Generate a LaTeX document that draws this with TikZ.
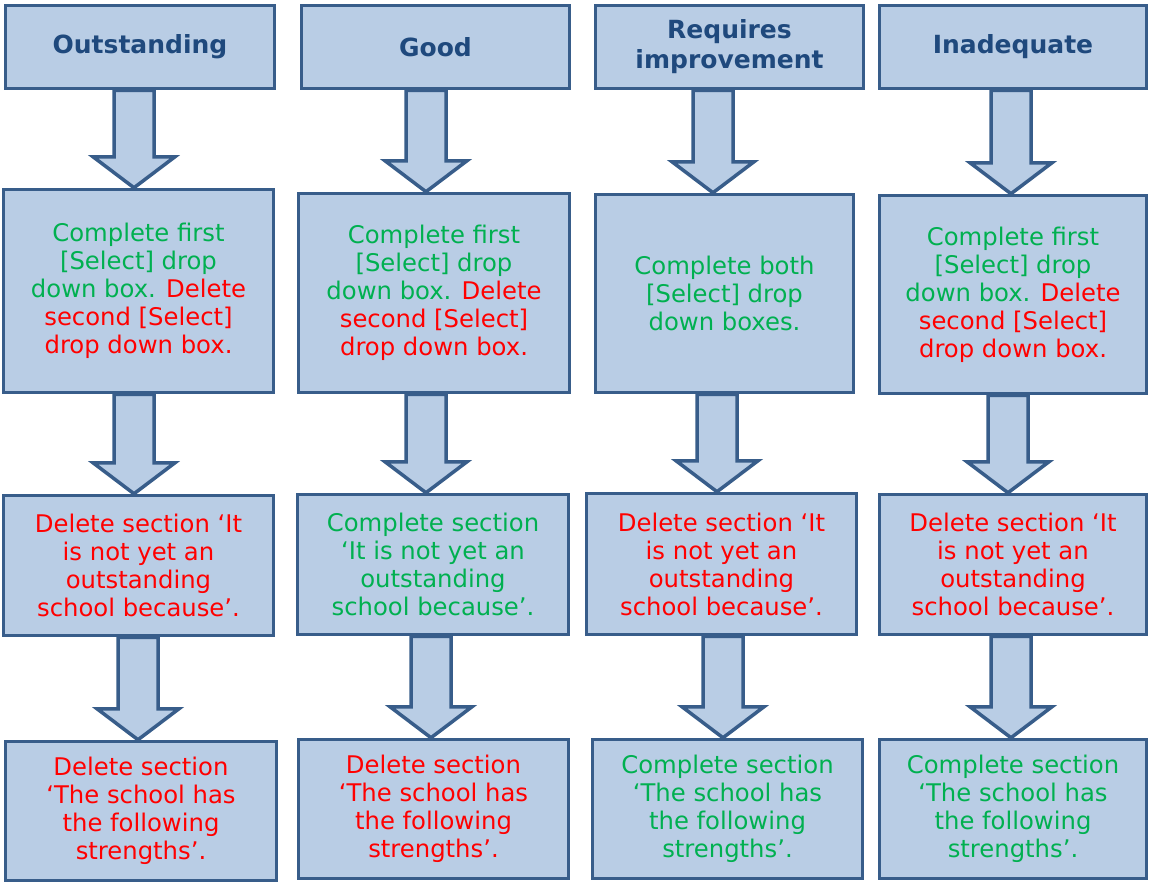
\documentclass[tikz,border=0pt]{standalone}
\usepackage{fontspec}
\setmainfont{DejaVu Sans}
\usepackage{tikz}
\usetikzlibrary{calc,positioning}
\definecolor{boxfill}{RGB}{185,205,229}
\definecolor{boxline}{RGB}{56,93,138}
\definecolor{headblue}{RGB}{31,73,125}
\definecolor{okgreen}{RGB}{0,176,80}
\definecolor{delred}{RGB}{255,0,0}
\tikzset{
    box/.style={rectangle, draw=boxline, fill=boxfill, line width=3.5pt, align=center, inner sep=2pt, minimum width=268pt, font=\fontsize{24.3}{28}\selectfont},
    head/.style={box, minimum height=83pt, text=headblue, font=\fontsize{25}{30}\selectfont\bfseries},
    bigarrow/.style={draw=boxline, fill=boxfill, line width=3.5pt, line join=miter}
}
% block arrow: from node, to node, centre x (pt)
\newcommand{\blockarrow}[3]{%
    \draw [bigarrow] let \p1=(#1.south), \p2=(#2.north) in
        (#3pt-20pt,\y1) -- (#3pt+20pt,\y1) -- (#3pt+20pt,\y2+31pt) -- (#3pt+41pt,\y2+31pt)
        -- (#3pt,\y2) -- (#3pt-41pt,\y2+31pt) -- (#3pt-20pt,\y2+31pt) -- cycle;}
\newcommand{\ok}[1]{\textcolor{okgreen}{#1}}
\newcommand{\del}[1]{\textcolor{delred}{#1}}

\begin{document}
\begin{tikzpicture}[x=1pt, y=-1pt]
    \useasboundingbox (0,0) rectangle (1152,884);

    % Outstanding
    \node [head, minimum width=269pt] (out) at (140,47) {Outstanding};
    \node [box, minimum width=270pt, minimum height=203pt] (out-sel) at (138.5,291)
        {\ok{Complete first}\\\ok{[Select] drop}\\\ok{down box.} \del{Delete}\\\del{second [Select]}\\\del{drop down box.}};
    \node [box, minimum width=270pt, minimum height=140pt] (out-nyo) at (138.5,565.5)
        {\del{Delete section ‘It}\\\del{is not yet an}\\\del{outstanding}\\\del{school because’.}};
    \node [box, minimum width=271pt, minimum height=139pt] (out-str) at (141,811)
        {\del{Delete section}\\\del{‘The school has}\\\del{the following}\\\del{strengths’.}};

    % Good
    \node [head] (good) at (435.5,47) {Good};
    \node [box, minimum width=271pt, minimum height=199pt] (good-sel) at (434,293)
        {\ok{Complete first}\\\ok{[Select] drop}\\\ok{down box.} \del{Delete}\\\del{second [Select]}\\\del{drop down box.}};
    \node [box, minimum width=271pt, minimum height=140pt] (good-nyo) at (433,564.5)
        {\ok{Complete section}\\\ok{‘It is not yet an}\\\ok{outstanding}\\\ok{school because’.}};
    \node [box, minimum width=270pt, minimum height=139pt] (good-str) at (433.5,809)
        {\del{Delete section}\\\del{‘The school has}\\\del{the following}\\\del{strengths’.}};

    % Requires improvement
    \node [head] (req) at (729.5,47) {Requires\\improvement};
    \node [box, minimum width=258pt, minimum height=198pt] (req-sel) at (724.5,293.5)
        {\ok{Complete both}\\\ok{[Select] drop}\\\ok{down boxes.}};
    \node [box, minimum width=270pt, minimum height=141pt] (req-nyo) at (721.5,564)
        {\del{Delete section ‘It}\\\del{is not yet an}\\\del{outstanding}\\\del{school because’.}};
    \node [box, minimum width=270pt, minimum height=139pt] (req-str) at (727.5,809)
        {\ok{Complete section}\\\ok{‘The school has}\\\ok{the following}\\\ok{strengths’.}};

    % Inadequate
    \node [head, minimum width=267pt] (inad) at (1013,47) {Inadequate};
    \node [box, minimum width=267pt, minimum height=198pt] (inad-sel) at (1013,294.5)
        {\ok{Complete first}\\\ok{[Select] drop}\\\ok{down box.} \del{Delete}\\\del{second [Select]}\\\del{drop down box.}};
    \node [box, minimum width=267pt, minimum height=140pt] (inad-nyo) at (1013,564.5)
        {\del{Delete section ‘It}\\\del{is not yet an}\\\del{outstanding}\\\del{school because’.}};
    \node [box, minimum width=267pt, minimum height=139pt] (inad-str) at (1013,809)
        {\ok{Complete section}\\\ok{‘The school has}\\\ok{the following}\\\ok{strengths’.}};

    % arrows
    \blockarrow{out}{out-sel}{134}
    \blockarrow{out-sel}{out-nyo}{134}
    \blockarrow{out-nyo}{out-str}{138}
    \blockarrow{good}{good-sel}{426}
    \blockarrow{good-sel}{good-nyo}{426}
    \blockarrow{good-nyo}{good-str}{431}
    \blockarrow{req}{req-sel}{713}
    \blockarrow{req-sel}{req-nyo}{717}
    \blockarrow{req-nyo}{req-str}{723}
    \blockarrow{inad}{inad-sel}{1011}
    \blockarrow{inad-sel}{inad-nyo}{1008}
    \blockarrow{inad-nyo}{inad-str}{1011}
\end{tikzpicture}
\end{document}
